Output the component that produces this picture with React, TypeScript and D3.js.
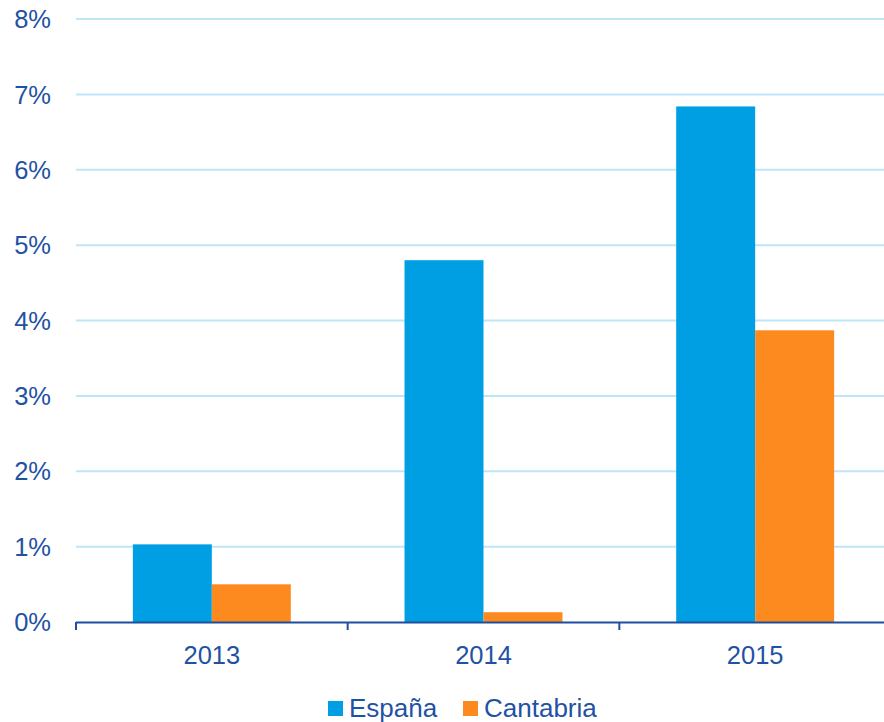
import React, { useEffect, useRef } from 'react';
import * as d3 from 'd3';

const years = ['2013', '2014', '2015'];
const series = ['España', 'Cantabria'];
const espana = [1.03, 4.8, 6.84];
const cantabria = [0.5, 0.13, 3.87];
const yTicks = [0, 1, 2, 3, 4, 5, 6, 7, 8];

const colors = ['#009FE3', '#FD8A1E'];
const textColor = '#1F52A3';

const App: React.FC = () => {
  const svgRef = useRef<SVGSVGElement>(null);

  useEffect(() => {
    if (!svgRef.current) return;
    const svg = d3.select(svgRef.current);
    svg.selectAll('*').remove();

    const left = 76;
    const right = 891;
    const top = 19;
    const bottom = 622;

    const x = d3.scaleBand<string>().domain(years).range([left, right]);
    const inner = d3.scaleBand<string>().domain(series).range([0, x.bandwidth()]).paddingOuter(0.72).paddingInner(0);
    const y = d3.scaleLinear().domain([0, 8]).range([bottom, top]);

    const font = "'Liberation Sans', Arial, sans-serif";

    // gridlines
    svg.append('g')
      .selectAll('line')
      .data(yTicks.filter(t => t > 0))
      .join('line')
      .attr('x1', left)
      .attr('x2', 884)
      .attr('y1', d => y(d))
      .attr('y2', d => y(d))
      .attr('stroke', '#BFE6F7')
      .attr('stroke-width', 2);

    // y labels
    svg.append('g')
      .selectAll('text')
      .data(yTicks)
      .join('text')
      .attr('x', 51)
      .attr('y', d => y(d))
      .attr('dy', '0.36em')
      .attr('text-anchor', 'end')
      .attr('fill', textColor)
      .style('font-family', font)
      .style('font-size', '25.5px')
      .text(d => `${d}%`);

    // bars
    const data = [espana, cantabria];
    series.forEach((s, si) => {
      svg.append('g')
        .selectAll('rect')
        .data(years)
        .join('rect')
        .attr('x', (d) => (x(d) as number) + (inner(s) as number))
        .attr('width', inner.bandwidth())
        .attr('y', (_d, i) => y(data[si][i]))
        .attr('height', (_d, i) => bottom - y(data[si][i]))
        .attr('fill', colors[si]);
    });

    // x axis
    const axis = svg.append('g').attr('stroke', '#1F4E9F');
    axis.append('line')
      .attr('x1', left).attr('x2', 884)
      .attr('y1', bottom + 0.5).attr('y2', bottom + 0.5)
      .attr('stroke-width', 2);
    axis.selectAll('line.tick')
      .data(years.map(yr => x(yr) as number).concat([right]))
      .join('line')
      .attr('class', 'tick')
      .attr('x1', d => d).attr('x2', d => d)
      .attr('y1', bottom).attr('y2', bottom + 8)
      .attr('stroke-width', 2);

    svg.append('g')
      .selectAll('text')
      .data(years)
      .join('text')
      .attr('x', d => (x(d) as number) + x.bandwidth() / 2)
      .attr('y', 664)
      .attr('text-anchor', 'middle')
      .attr('fill', textColor)
      .style('font-family', font)
      .style('font-size', '25.5px')
      .text(d => d);

    // legend
    const legendX = [328, 463];
    const lg = svg.append('g');
    series.forEach((s, i) => {
      lg.append('rect')
        .attr('x', legendX[i]).attr('y', 701)
        .attr('width', 15).attr('height', 15)
        .attr('fill', colors[i]);
      lg.append('text')
        .attr('x', legendX[i] + 21).attr('y', 717)
        .attr('fill', textColor)
        .style('font-family', font)
        .style('font-size', '26px')
        .text(s);
    });
  }, []);

  return (
    <svg
      ref={svgRef}
      width={884}
      height={722}
      style={{ position: 'absolute', left: 0, top: 0, display: 'block', background: '#fff' }}
    />
  );
};

export default App;
